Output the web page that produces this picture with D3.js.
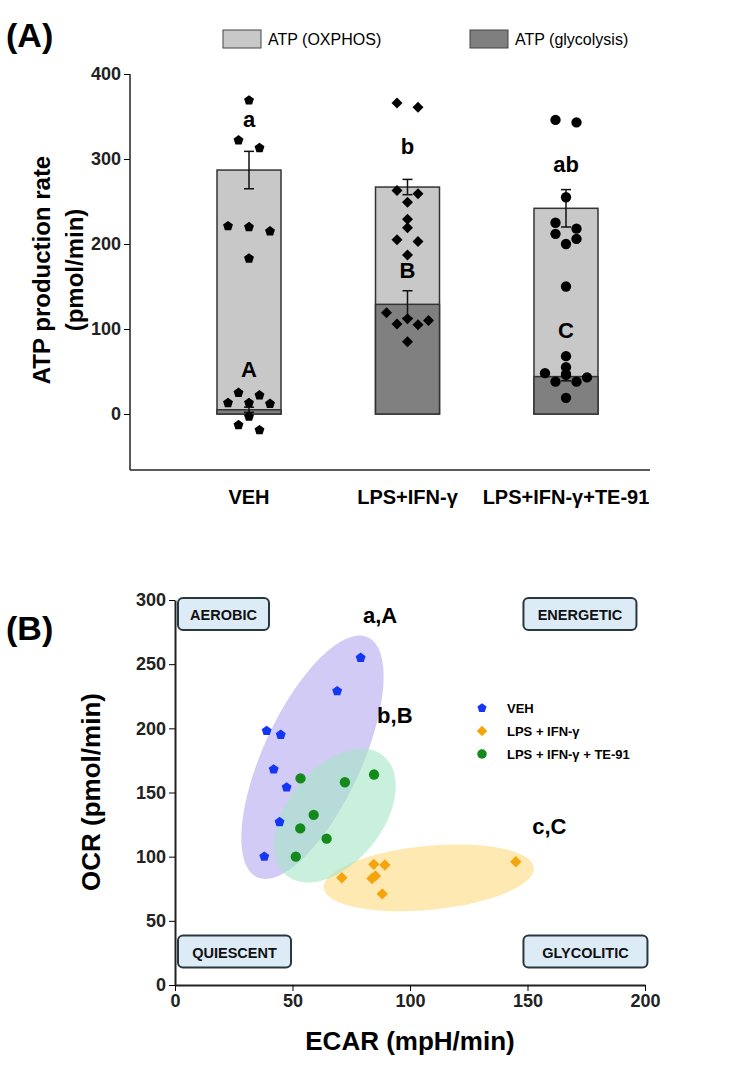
<!DOCTYPE html>
<html><head><meta charset="utf-8">
<script src="https://cdn.jsdelivr.net/npm/d3@7"></script>
<style>body{margin:0;background:#fff;font-family:Arial,"Liberation Sans",sans-serif}</style>
</head><body><svg id="c" width="750" height="1079"></svg>
<script>
// ---- panel A data ----
var groups = ["VEH", "LPS+IFN-γ", "LPS+IFN-γ+TE-91"];
var atpTotal = [287, 267, 242];
var atpGlyco = [5, 129, 44];
var semTotal = [22, 9, 22];
var semGlyco = [3, 16, 5];
var ptsOx = [[369, 322, 313, 220, 221, 215, 183],
             [366, 361, 263, 259, 249, 229, 219, 203, 205, 187],
             [346, 343, 255, 225, 218, 212, 206, 200, 150, 68, 55]];
var ptsGly = [[22, 25, 12, 13, 13, -3, -13, -19],
              [119, 112, 110, 106, 105, 85],
              [46, 48, 43, 38, 38, 19]];
var lettersTop = ["a", "b", "ab"], lettersTopY = [338, 306, 285];
var lettersLow = ["A", "B", "C"], lettersLowY = [44, 160, 89];
var yTicksA = [0, 100, 200, 300, 400];

// ---- panel B data ----
var seriesB = ["VEH", "LPS + IFN-γ", "LPS + IFN-γ + TE-91"];
var colorsB = ["#1436f5", "#f5a50c", "#138a1b"];
var fillsB = ["#b4a8ee", "#fde19a", "#a4e6c4"];
var ecar = [[79, 69, 39, 45, 42, 47.5, 44.5, 38],
            [84.6, 89.3, 85.3, 83.8, 71, 88.2, 145],
            [53.4, 72.3, 84.7, 59, 53.3, 64.5, 51.4]];
var ocr = [[255, 229, 198, 195, 168, 154, 127, 100],
           [94, 93.5, 85, 83, 83.6, 71, 96],
           [161, 158, 164, 132.5, 122, 114, 100]];
var groupLabels = ["a,A", "c,C", "b,B"];
var groupLabelPos = [[80, 282], [152, 118], [86, 204]];
var xTicksB = [0, 50, 100, 150, 200];
var yTicksB = [0, 50, 100, 150, 200, 250, 300];

var svg = d3.select("#c");
var bold = "bold";

function pentagon(r) {
  var p = d3.range(5).map(function(i){ var a = -Math.PI/2 + i*2*Math.PI/5; return [r*Math.cos(a), r*Math.sin(a)]; });
  return "M" + p.join("L") + "Z";
}
// kind 0 pentagon, 1 diamond, 2 circle
function marker(sel, kind, r, tx) {
  if (kind == 0) sel.attr("d", pentagon(r)).attr("transform", tx);
  else if (kind == 1) sel.attr("d", d3.symbol(d3.symbolSquare, r*r*2.4)()).attr("transform", tx + " rotate(45)");
  else sel.attr("d", d3.symbol(d3.symbolCircle, r*r*3.1)()).attr("transform", tx);
}

// ================= Panel A =================
var yA = d3.scaleLinear().domain([0, 400]).range([414, 74]);
var xA = d3.scalePoint().domain(groups).range([249, 566]);
var bw = 64;

svg.append("text").attr("x", 6).attr("y", 47).attr("font-size", 34).attr("font-weight", bold).text("(A)");

var legA = [["ATP (OXPHOS)", "#c8c8c8", 223], ["ATP (glycolysis)", "#7f7f7f", 470]];
legA.forEach(function(l){
  svg.append("rect").attr("x", l[2]).attr("y", 30).attr("width", 38).attr("height", 18).attr("fill", l[1]).attr("stroke", "#444");
  svg.append("text").attr("x", l[2]+45).attr("y", 45).attr("font-size", 16).text(l[0]);
});

var axA = svg.append("g").attr("transform", "translate(130,0)").call(d3.axisLeft(yA).tickValues(yTicksA).tickSize(6));
axA.select(".domain").remove();
svg.append("line").attr("x1", 130).attr("x2", 130).attr("y1", 74).attr("y2", 470).attr("stroke", "#222").attr("stroke-width", 1.5);
svg.append("line").attr("x1", 130).attr("x2", 650).attr("y1", 470).attr("y2", 470).attr("stroke", "#222").attr("stroke-width", 1.5);
axA.selectAll("text").attr("font-size", 18).attr("font-weight", bold).attr("fill", "#222");
svg.append("text").attr("transform", "translate(50,270) rotate(-90)").attr("text-anchor", "middle")
  .attr("font-size", 24).attr("font-weight", bold).text("ATP production rate");
svg.append("text").attr("transform", "translate(83,270) rotate(-90)").attr("text-anchor", "middle")
  .attr("font-size", 24).attr("font-weight", bold).text("(pmol/min)");

groups.forEach(function(g, i){
  var cx = xA(g), x0 = cx - bw/2;
  svg.append("rect").attr("x", x0).attr("y", yA(atpTotal[i])).attr("width", bw).attr("height", yA(0)-yA(atpTotal[i]))
    .attr("fill", "#c8c8c8").attr("stroke", "#333").attr("stroke-width", 1.5);
  svg.append("rect").attr("x", x0).attr("y", yA(atpGlyco[i])).attr("width", bw).attr("height", yA(0)-yA(atpGlyco[i]))
    .attr("fill", "#808080").attr("stroke", "#333").attr("stroke-width", 1.5);
  [[atpTotal[i], semTotal[i]], [atpGlyco[i], semGlyco[i]]].forEach(function(e){
    var g2 = svg.append("g").attr("stroke", "#111").attr("stroke-width", 1.5);
    g2.append("line").attr("x1", cx).attr("x2", cx).attr("y1", yA(e[0]-e[1])).attr("y2", yA(e[0]+e[1]));
    [e[0]-e[1], e[0]+e[1]].forEach(function(v){
      g2.append("line").attr("x1", cx-5).attr("x2", cx+5).attr("y1", yA(v)).attr("y2", yA(v));
    });
  });
  // dodge points that sit close together
  [ptsOx[i], ptsGly[i]].forEach(function(arr){
    var sorted = arr.slice().sort(function(a,b){return b-a;});
    var clusters = [];
    sorted.forEach(function(v){
      var last = clusters[clusters.length-1];
      if (last && yA(v) - yA(last[0]) < 8 && last.length < 3) last.push(v); else clusters.push([v]);
    });
    clusters.forEach(function(c){
      c.forEach(function(v, k){
        var off = (k - (c.length-1)/2) * 21;
        var p = svg.append("path").attr("fill", "#000");
        marker(p, i, i == 1 ? 5 : 5.2, "translate(" + (cx+off) + "," + yA(v) + ")");
      });
    });
  });
  svg.append("text").attr("x", cx).attr("y", yA(lettersTopY[i])).attr("text-anchor", "middle").attr("font-size", 22).attr("font-weight", bold).text(lettersTop[i]);
  svg.append("text").attr("x", cx).attr("y", yA(lettersLowY[i])).attr("text-anchor", "middle").attr("font-size", 22).attr("font-weight", bold).text(lettersLow[i]);
  svg.append("text").attr("x", cx).attr("y", 504).attr("text-anchor", "middle").attr("font-size", 20).attr("font-weight", bold).text(g);
});

// ================= Panel B =================
var xB = d3.scaleLinear().domain([0, 200]).range([175, 645]);
var yB = d3.scaleLinear().domain([0, 300]).range([985, 600]);

svg.append("text").attr("x", 6).attr("y", 640).attr("font-size", 34).attr("font-weight", bold).text("(B)");

// ellipses around each group, oriented by the points' covariance
seriesB.forEach(function(s, i){
  var px = ecar[i].map(xB), py = ocr[i].map(yB);
  var mx = d3.mean(px), my = d3.mean(py);
  var sxx = d3.mean(px, function(v){return (v-mx)*(v-mx);});
  var syy = d3.mean(py, function(v){return (v-my)*(v-my);});
  var sxy = d3.mean(px.map(function(v,k){return (v-mx)*(py[k]-my);}));
  var tr = sxx + syy, det = sxx*syy - sxy*sxy;
  var l1 = tr/2 + Math.sqrt(tr*tr/4 - det), l2 = tr/2 - Math.sqrt(tr*tr/4 - det);
  var ang = Math.atan2(l1 - sxx, sxy) * 180 / Math.PI;
  var cx = (d3.min(px) + d3.max(px)) / 2, cy = (d3.min(py) + d3.max(py)) / 2;
  var k = 1.75;
  svg.append("ellipse").attr("cx", cx).attr("cy", cy)
    .attr("rx", k*Math.sqrt(l1) + 14).attr("ry", k*Math.sqrt(Math.max(l2, 1)) + 16)
    .attr("transform", "rotate(" + ang + "," + cx + "," + cy + ")")
    .attr("fill", fillsB[i]).attr("opacity", i == 1 ? 0.75 : 0.6);
});

seriesB.forEach(function(s, i){
  ecar[i].forEach(function(v, k){
    var p = svg.append("path").attr("fill", colorsB[i]);
    marker(p, i == 1 ? 1 : (i == 0 ? 0 : 2), 5.2, "translate(" + xB(v) + "," + yB(ocr[i][k]) + ")");
  });
  svg.append("text").attr("x", xB(groupLabelPos[i][0])).attr("y", yB(groupLabelPos[i][1]))
    .attr("font-size", 22).attr("font-weight", bold).text(groupLabels[i]);
});

var axBx = svg.append("g").attr("transform", "translate(0,985)").call(d3.axisBottom(xB).tickValues(xTicksB).tickSize(6).tickSizeOuter(0));
var axBy = svg.append("g").attr("transform", "translate(175,0)").call(d3.axisLeft(yB).tickValues(yTicksB).tickSize(6).tickSizeOuter(0));
[axBx, axBy].forEach(function(a){
  a.select(".domain").attr("stroke", "#222").attr("stroke-width", 2);
  a.selectAll("text").attr("font-size", 18).attr("font-weight", bold).attr("fill", "#222");
});
svg.append("text").attr("transform", "translate(100,792) rotate(-90)").attr("text-anchor", "middle")
  .attr("font-size", 26).attr("font-weight", bold).text("OCR (pmol/min)");
svg.append("text").attr("x", 410).attr("y", 1050).attr("text-anchor", "middle")
  .attr("font-size", 26).attr("font-weight", bold).text("ECAR (mpH/min)");

// quadrant tags
var quads = [["AEROBIC", 0, 300], ["ENERGETIC", 147, 300], ["QUIESCENT", 0, 37], ["GLYCOLITIC", 147, 37]];
quads.forEach(function(q){
  var w = q[0].length * 11 + 14;
  var x = xB(q[1]) + 3;
  var y = yB(q[2]) - 2;
  svg.append("rect").attr("x", x).attr("y", y).attr("width", w).attr("height", 32).attr("rx", 5)
    .attr("fill", "#dcebf6").attr("stroke", "#28383f").attr("stroke-width", 2);
  svg.append("text").attr("x", x + w/2).attr("y", y + 22).attr("text-anchor", "middle")
    .attr("font-size", 14.5).attr("font-weight", bold).attr("fill", "#111").text(q[0]);
});

// legend B
seriesB.forEach(function(s, i){
  var y = 708 + i*23;
  var p = svg.append("path").attr("fill", colorsB[i]);
  marker(p, i == 1 ? 1 : (i == 0 ? 0 : 2), 4.8, "translate(482," + y + ")");
  svg.append("text").attr("x", 507).attr("y", y + 5).attr("font-size", 13).attr("font-weight", bold).text(s);
});
</script></body></html>
